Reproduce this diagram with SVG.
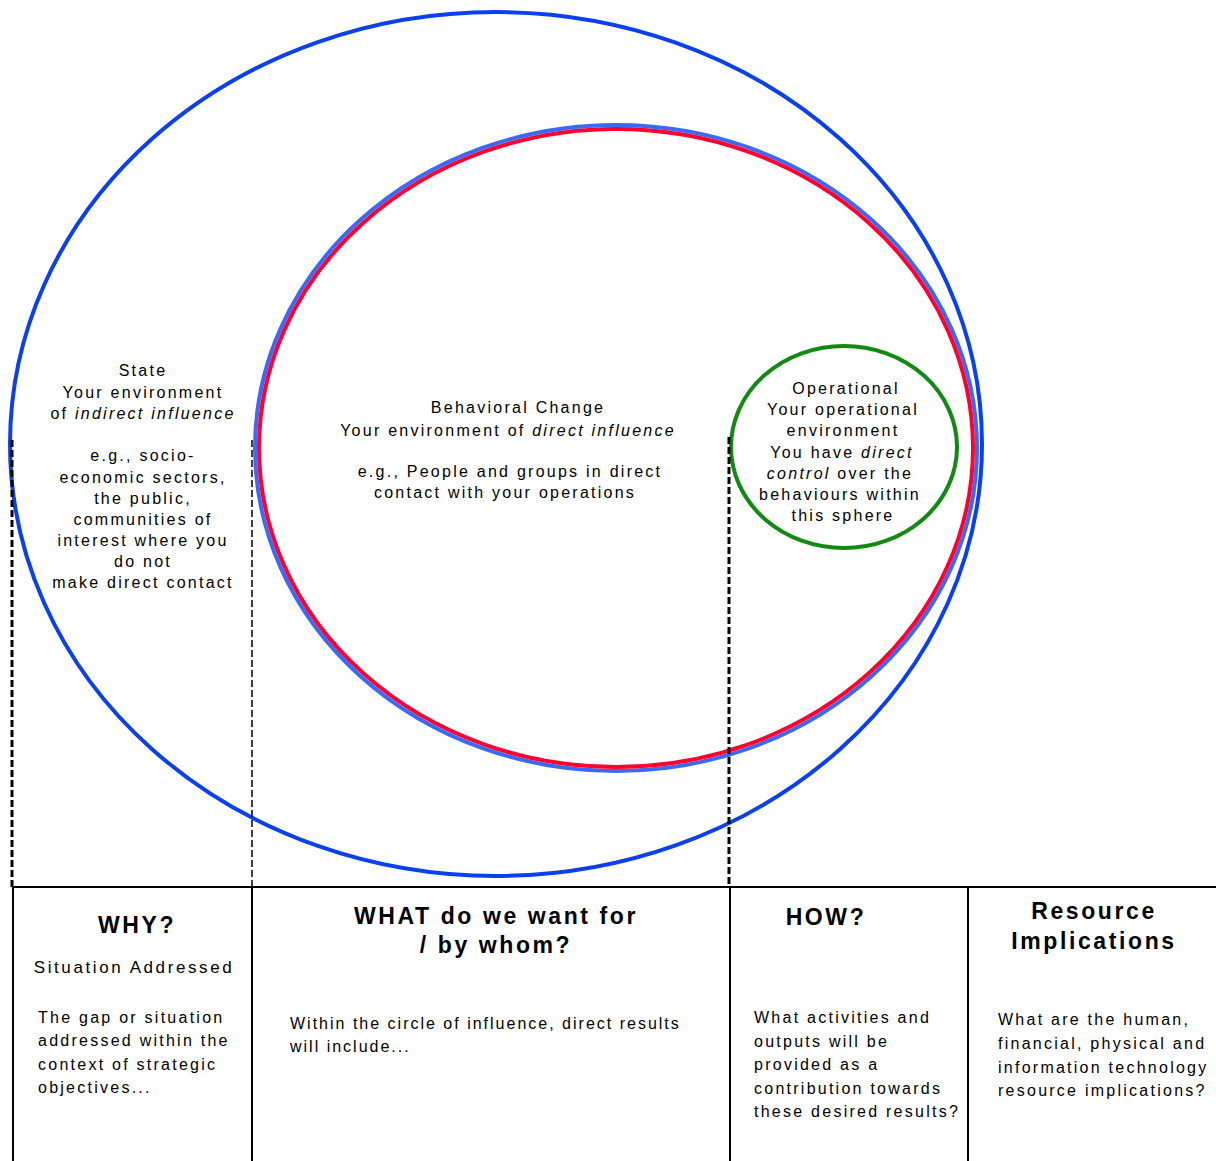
<svg xmlns="http://www.w3.org/2000/svg" width="1216" height="1161" viewBox="0 0 1216 1161">
<style>
text{font-family:"Liberation Sans",Arial,sans-serif;fill:#000}
.t{font-size:16px;letter-spacing:2.25px}
.m{text-anchor:middle}
.h{font-size:23px;font-weight:bold;letter-spacing:2.6px;text-anchor:middle}
.dk{stroke:#000;stroke-width:3;stroke-dasharray:7 3;fill:none}
.dt{stroke:#000;stroke-width:1.5;stroke-dasharray:7 3;fill:none}
.tl{stroke:#000;stroke-width:2;fill:none}
</style>
<rect width="1216" height="1161" fill="#fff"/>
<g id="state-sphere">
<ellipse cx="496" cy="444" rx="486" ry="432" fill="none" stroke="#0a40ee" stroke-width="4"/>
<text class="t m" x="143"><tspan x="143" y="376">State</tspan><tspan x="143" y="398">Your environment</tspan><tspan x="143" y="419">of <tspan font-style="italic">indirect influence</tspan></tspan><tspan x="143" y="461">e.g., socio-</tspan><tspan x="143" y="483">economic sectors,</tspan><tspan x="143" y="504">the public,</tspan><tspan x="143" y="525">communities of</tspan><tspan x="143" y="546">interest where you</tspan><tspan x="143" y="567">do not</tspan><tspan x="143" y="588">make direct contact</tspan></text>
</g>
<g id="behavioral-sphere">
<ellipse cx="616" cy="448" rx="361" ry="323" fill="none" stroke="#3a6af5" stroke-width="4"/>
<ellipse cx="616" cy="448" rx="357" ry="319" fill="none" stroke="#ff0033" stroke-width="4"/>
<text class="t m"><tspan x="518" y="413">Behavioral Change</tspan><tspan x="508" y="436">Your environment of <tspan font-style="italic">direct influence</tspan></tspan><tspan x="510" y="477">e.g.,  People and groups in direct</tspan><tspan x="505" y="498">contact with your operations</tspan></text>
</g>
<g id="operational-sphere">
<ellipse cx="844" cy="447" rx="113" ry="101" fill="none" stroke="#108a10" stroke-width="4"/>
<text class="t m"><tspan x="846" y="394">Operational</tspan><tspan x="843" y="415">Your operational</tspan><tspan x="843" y="436">environment</tspan><tspan x="842" y="458">You have <tspan font-style="italic">direct</tspan></tspan><tspan x="840" y="479"><tspan font-style="italic">control</tspan> over the</tspan><tspan x="840" y="500">behaviours within</tspan><tspan x="843" y="521">this sphere</tspan></text>
</g>
<g id="connectors">
<line class="dk" x1="12" y1="440" x2="12" y2="887"/>
<line class="dt" x1="252" y1="440" x2="252" y2="887"/>
<line class="dk" x1="729" y1="437" x2="729" y2="887"/>
</g>
<g id="table">
<line class="tl" x1="12" y1="887" x2="1216" y2="887"/>
<line class="tl" x1="13" y1="887" x2="13" y2="1161"/>
<line class="tl" x1="252" y1="887" x2="252" y2="1161"/>
<line class="tl" x1="730" y1="887" x2="730" y2="1161"/>
<line class="tl" x1="968" y1="887" x2="968" y2="1161"/>
</g>
<g id="why">
<text class="h" x="137" y="933">WHY?</text>
<text class="t m" x="134" y="973" style="font-size:17px;letter-spacing:2.6px">Situation Addressed</text>
<text class="t"><tspan x="38" y="1023">The gap or situation</tspan><tspan x="38" y="1046">addressed within the</tspan><tspan x="38" y="1070">context of strategic</tspan><tspan x="38" y="1093">objectives...</tspan></text>
</g>
<g id="what">
<text class="h"><tspan x="496" y="924">WHAT do we want for</tspan><tspan x="496" y="953">/ by whom?</tspan></text>
<text class="t" style="letter-spacing:2px"><tspan x="290" y="1029">Within the circle of influence, direct results</tspan><tspan x="290" y="1052">will include...</tspan></text>
</g>
<g id="how">
<text class="h" x="826" y="925">HOW?</text>
<text class="t"><tspan x="754" y="1023">What activities and</tspan><tspan x="754" y="1047">outputs will be</tspan><tspan x="754" y="1070">provided as a</tspan><tspan x="754" y="1094">contribution towards</tspan><tspan x="754" y="1117">these desired results?</tspan></text>
</g>
<g id="resources">
<text class="h"><tspan x="1094" y="919">Resource</tspan><tspan x="1094" y="949">Implications</tspan></text>
<text class="t"><tspan x="998" y="1025">What are the human,</tspan><tspan x="998" y="1049">financial, physical and</tspan><tspan x="998" y="1073">information technology</tspan><tspan x="998" y="1096">resource implications?</tspan></text>
</g>
</svg>
